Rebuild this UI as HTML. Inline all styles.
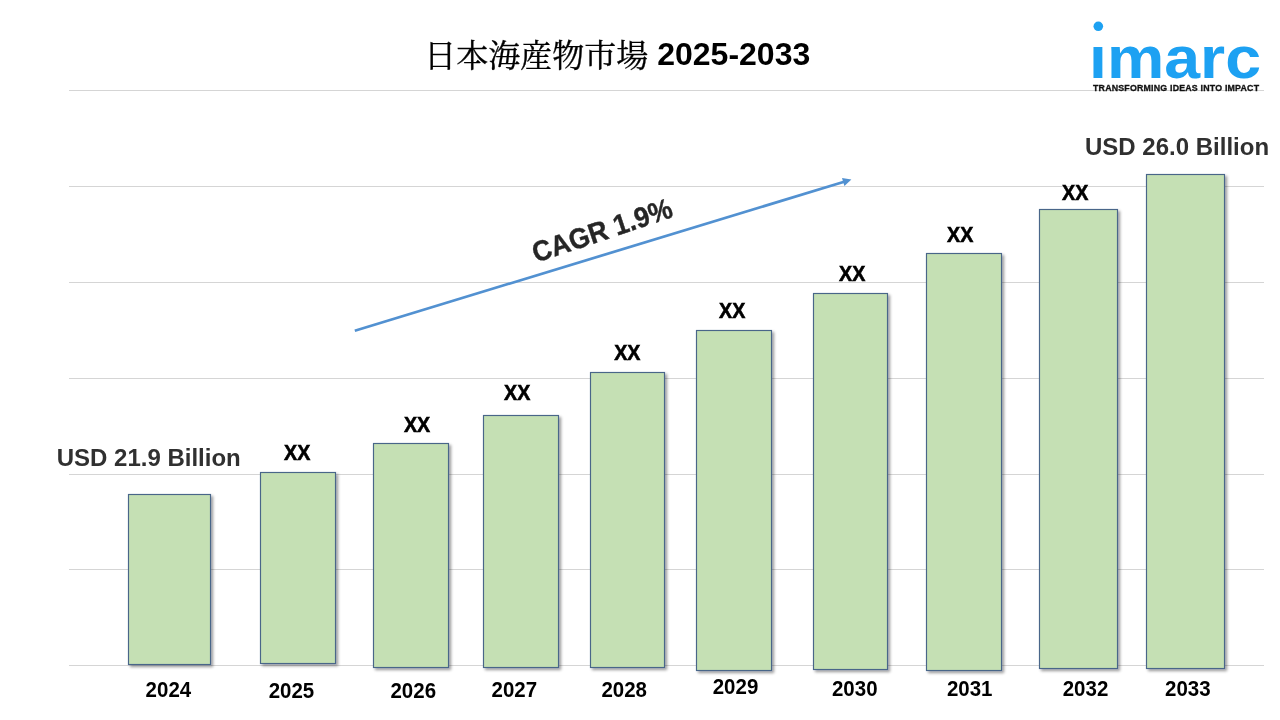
<!DOCTYPE html>
<html lang="ja">
<head>
<meta charset="utf-8">
<title>日本海産物市場 2025-2033</title>
<style>
html,body{margin:0;padding:0;background:#fff;}
body{width:1280px;height:720px;overflow:hidden;position:relative;font-family:"Liberation Sans","Noto Sans CJK JP",sans-serif;}
svg{position:absolute;left:0;top:0;}
text{font-family:"Liberation Sans","Noto Sans CJK JP",sans-serif;}
.yr{font-weight:700;font-size:21.8px;fill:#000;text-anchor:middle;}
.xx{font-weight:700;font-size:21.5px;fill:#000;text-anchor:middle;stroke:#000;stroke-width:0.6px;}
.usd{font-weight:700;font-size:24px;fill:#303030;}
.cjk{font-family:"Liberation Serif","Noto Serif CJK SC",serif;font-weight:400;font-size:32px;fill:#000;stroke:#000;stroke-width:0.35px;}
.ttl{font-weight:700;font-size:32px;fill:#000;}
.cagr{font-weight:700;font-size:28.5px;fill:#262626;text-anchor:middle;stroke:#262626;stroke-width:0.4px;}
.logo{font-weight:700;font-size:59.4px;fill:#1da1f2;}
.tag{font-weight:700;font-size:8.8px;fill:#111;stroke:#111;stroke-width:0.3px;}
</style>
</head>
<body>
<svg width="1280" height="720" viewBox="0 0 1280 720">
<defs>
<filter id="sh" x="-10%" y="-5%" width="125%" height="112%">
<feGaussianBlur in="SourceAlpha" stdDeviation="1.6"/>
<feOffset dx="2.4" dy="2" result="b"/>
<feComponentTransfer><feFuncA type="linear" slope="0.4"/></feComponentTransfer>
<feMerge><feMergeNode/><feMergeNode in="SourceGraphic"/></feMerge>
</filter>
</defs>
<rect width="1280" height="720" fill="#fff"/>

<g fill="#d5d5d5">
<rect x="69" y="90" width="1195" height="1"/>
<rect x="69" y="186" width="1195" height="1"/>
<rect x="69" y="282" width="1195" height="1"/>
<rect x="69" y="378" width="1195" height="1"/>
<rect x="69" y="474" width="1195" height="1"/>
<rect x="69" y="569" width="1195" height="1"/>
<rect x="69" y="665" width="1195" height="1"/>
</g>
<g fill="#c5e0b4" stroke="#4a6689" stroke-width="1.15" filter="url(#sh)">
<rect x="128.5" y="494.5" width="82.00" height="170.00"/>
<rect x="260.5" y="472.5" width="75.00" height="191.00"/>
<rect x="373.5" y="443.5" width="75.00" height="224.00"/>
<rect x="483.5" y="415.5" width="75.00" height="252.00"/>
<rect x="590.5" y="372.5" width="74.00" height="295.00"/>
<rect x="696.5" y="330.5" width="75.00" height="340.00"/>
<rect x="813.5" y="293.5" width="74.00" height="376.00"/>
<rect x="926.5" y="253.5" width="75.00" height="417.00"/>
<rect x="1039.5" y="209.5" width="78.00" height="459.00"/>
<rect x="1146.5" y="174.5" width="78.00" height="494.00"/>
</g>
<g stroke="#5291d1" stroke-width="2.7" fill="none"><line x1="354.8" y1="330.7" x2="845" y2="181.5"/></g>
<polygon points="851.4,179.6 842.0,178.0 844.4,186.1" fill="#5291d1"/>
<text class="yr" x="168.38" y="697.00" transform="translate(168.38 0) scale(0.94 1) translate(-168.38 0)">2024</text>
<text class="yr" x="291.50" y="698.00" transform="translate(291.50 0) scale(0.94 1) translate(-291.50 0)">2025</text>
<text class="yr" x="413.25" y="698.00" transform="translate(413.25 0) scale(0.94 1) translate(-413.25 0)">2026</text>
<text class="yr" x="514.38" y="697.00" transform="translate(514.38 0) scale(0.94 1) translate(-514.38 0)">2027</text>
<text class="yr" x="624.25" y="697.00" transform="translate(624.25 0) scale(0.94 1) translate(-624.25 0)">2028</text>
<text class="yr" x="735.50" y="693.75" transform="translate(735.50 0) scale(0.94 1) translate(-735.50 0)">2029</text>
<text class="yr" x="854.75" y="696.25" transform="translate(854.75 0) scale(0.94 1) translate(-854.75 0)">2030</text>
<text class="yr" x="969.75" y="696.00" transform="translate(969.75 0) scale(0.94 1) translate(-969.75 0)">2031</text>
<text class="yr" x="1085.50" y="696.00" transform="translate(1085.50 0) scale(0.94 1) translate(-1085.50 0)">2032</text>
<text class="yr" x="1187.88" y="696.00" transform="translate(1187.88 0) scale(0.94 1) translate(-1187.88 0)">2033</text>
<text class="xx" x="297.25" y="460.00" transform="translate(297.25 0) scale(0.915 1) translate(-297.25 0)">XX</text>
<text class="xx" x="417.12" y="432.00" transform="translate(417.12 0) scale(0.915 1) translate(-417.12 0)">XX</text>
<text class="xx" x="517.25" y="400.00" transform="translate(517.25 0) scale(0.915 1) translate(-517.25 0)">XX</text>
<text class="xx" x="627.25" y="360.00" transform="translate(627.25 0) scale(0.915 1) translate(-627.25 0)">XX</text>
<text class="xx" x="732.25" y="317.75" transform="translate(732.25 0) scale(0.915 1) translate(-732.25 0)">XX</text>
<text class="xx" x="852.25" y="281.00" transform="translate(852.25 0) scale(0.915 1) translate(-852.25 0)">XX</text>
<text class="xx" x="960.25" y="241.75" transform="translate(960.25 0) scale(0.915 1) translate(-960.25 0)">XX</text>
<text class="xx" x="1075.25" y="200.00" transform="translate(1075.25 0) scale(0.915 1) translate(-1075.25 0)">XX</text>
<text class="usd" x="56.7" y="466.3">USD 21.9 Billion</text>
<text class="usd" x="1085" y="155.2">USD 26.0 Billion</text>
<text x="424.3" y="65"><tspan class="cjk" dy="2">日本海産物市場</tspan><tspan class="ttl" dy="-2"> 2025-2033</tspan></text>
<text class="cagr" transform="translate(602 230) rotate(-18.5) scale(0.93 1)" x="0" y="10.2">CAGR 1.9%</text>
<text class="logo" x="1089" y="78" textLength="172" lengthAdjust="spacingAndGlyphs">imarc</text>
<rect x="1088" y="31.5" width="20" height="14.2" fill="#fff"/>
<circle cx="1098.3" cy="26.3" r="4.8" fill="#1da1f2"/>
<text class="tag" x="1093" y="91" textLength="166" lengthAdjust="spacing">TRANSFORMING IDEAS INTO IMPACT</text>
</svg>
</body>
</html>
